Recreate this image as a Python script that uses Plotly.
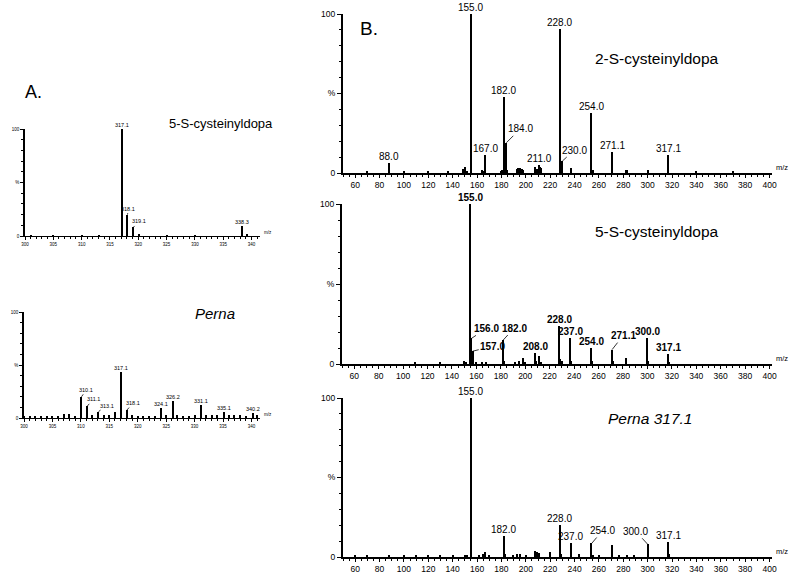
import plotly.graph_objects as go

# ---------------- DATA ----------------
# Panel A1: 5-S-cysteinyldopa (MS)
a1_mz = [301, 305, 310, 313, 317.1, 318.1, 319.1, 320.1, 325, 330, 338.3, 339.3]
a1_int = [0.5, 0.5, 0.5, 0.5, 100, 20, 8, 1, 0.5, 0.5, 9, 1.5]
a1_labels = [317.1, 318.1, 319.1, 338.3]

# Panel A2: Perna (MS)
a2_mz = [300, 301, 302, 303, 304, 305, 306, 307, 308, 309, 310.1, 311.1, 312, 313.1, 314, 315, 316,
         317.1, 318.1, 319, 320, 321, 322, 323, 324.1, 325, 326.2, 327, 328, 329, 330, 331.1, 332,
         333, 334, 335.1, 336, 337, 338, 339, 340.2, 341]
a2_int = [1.5, 1.5, 1.5, 1, 1.5, 2, 2, 3.5, 4, 1, 20, 11, 2.5, 6, 3, 2.5, 6,
          43, 7.5, 3, 2, 2, 1.5, 2, 9.5, 3, 16, 3, 2, 2, 3, 12, 3,
          3, 2.5, 6, 3, 3, 2.5, 2, 5, 3]
a2_labels = [310.1, 311.1, 313.1, 317.1, 318.1, 324.1, 326.2, 331.1, 335.1, 340.2]

# Panel B1: 2-S-cysteinyldopa (MS/MS)
b1_mz = [70, 88.0, 100, 120, 136, 149, 150, 152, 155.0, 164, 165, 167.0, 180, 181, 182.0, 183, 184.0,
         185, 193, 194, 195, 196, 197, 198, 208, 209, 210, 211.0, 212, 213, 228.0, 229, 230.0, 237,
         254.0, 255, 271.1, 282, 283, 300, 317.1, 340, 370]
b1_int = [0.8, 6, 0.8, 1.2, 1, 2.5, 3.5, 1.5, 100, 2, 1.5, 11.5, 1.5, 2, 48, 17, 19,
          2, 2.5, 3, 3, 2.5, 2.5, 2, 4, 2.5, 2, 5, 4, 3, 90.5, 3, 7.5, 3,
          38, 2, 13.5, 2, 2, 2, 11.5, 0.8, 0.8]
b1_labels = [88.0, 155.0, 167.0, 182.0, 184.0, 211.0, 228.0, 230.0, 254.0, 271.1, 317.1]

# Panel B2: 5-S-cysteinyldopa (MS/MS)
b2_mz = [110, 130, 150, 152, 155.0, 156.0, 157.0, 160, 165, 168, 182.0, 183, 192, 195, 198, 200,
         208.0, 209, 211, 213, 228.0, 229, 230, 237.0, 238, 254.0, 255, 271.1, 272, 283, 300.0, 301,
         317.1, 318]
b2_int = [0.8, 1, 2, 1.5, 100, 16, 8, 1, 1.5, 1, 15, 2, 1.5, 2, 4, 1.5,
          7, 2, 5, 1.5, 24, 3, 2, 16.5, 2, 10, 2, 9, 2, 3.5, 16.5, 2,
          6, 1.5]
b2_labels = [155.0, 156.0, 157.0, 182.0, 208.0, 228.0, 237.0, 254.0, 271.1, 300.0, 317.1]

# Panel B3: Perna 317.1 (MS/MS)
b3_mz = [60, 70, 88, 100, 110, 120, 130, 140, 150, 152, 155.0, 162, 165, 167, 170, 182.0, 183, 190,
         193, 195, 200, 208, 209, 211, 220, 228.0, 229, 237.0, 244, 254.0, 255, 260, 271, 277, 283,
         289, 300.0, 317.1, 318]
b3_int = [0.8, 0.8, 1.5, 0.8, 0.8, 0.8, 1, 1, 1.2, 1.5, 100, 1, 2, 3, 1, 13, 2, 1.5,
          2, 2, 1.5, 3.5, 3, 2.5, 3, 20, 2, 9, 2, 8.5, 1.5, 1, 7.5, 1, 1.5,
          1.5, 8, 9.5, 2]
b3_labels = [155.0, 182.0, 228.0, 237.0, 254.0, 300.0, 317.1]

a_xticks = [300, 305, 310, 315, 320, 325, 330, 335, 340]
b_xticks = [60, 80, 100, 120, 140, 160, 180, 200, 220, 240, 260, 280, 300, 320, 340, 360, 380, 400]
y_tickvals = [0, 50, 100]
y_ticktext = ["0", "%", "100"]

# ---------------- FIGURE ----------------
W, H = 800, 577
FONT = "Liberation Sans, Arial, sans-serif"

def px2x(p):
    return p / W

def px2y(p):
    return 1 - p / H

fig = go.Figure()

panels = [
    # name, mz, int, labels, xdomain px, ydomain px (bottom, top), xrange, bar width, kind, bold labels
    ("a1", a1_mz, a1_int, a1_labels, (25, 260), (236, 129), [300, 341.5], 0.2, "A", False),
    ("a2", a2_mz, a2_int, a2_labels, (24, 260), (418, 312), [300, 341.5], 0.2, "A", False),
    ("b1", b1_mz, b1_int, b1_labels, (343, 772), (173, 14), [50, 402], 1.1, "B", False),
    ("b2", b2_mz, b2_int, b2_labels, (342, 772), (364, 204), [50, 402], 1.1, "B", True),
    ("b3", b3_mz, b3_int, b3_labels, (343, 772), (557, 398), [50, 402], 1.1, "B", False),
]

# leader-line offsets for labels (px): (ax, ay)
leaders = {
    "a1": {318.1: (1, -6), 319.1: (6, -6)},
    "a2": {310.1: (5, -7), 311.1: (6, -7), 313.1: (8, -6), 318.1: (6, -7)},
    "b1": {184.0: (14, -14), 230.0: (12, -11)},
    "b2": {156.0: (15, -10), 157.0: (20, -5), 182.0: (11, -12), 271.1: (11, -14)},
    "b3": {254.0: (11, -13), 300.0: (-12, -13)},
}

annotations = []
for i, (name, mz, inten, labs, xd, yd, xr, bw, kind, bold) in enumerate(panels):
    n = "" if i == 0 else str(i + 1)
    xa, ya = "x" + n, "y" + n
    fig.add_trace(go.Bar(x=mz, y=inten, width=bw, marker=dict(color="black", line=dict(width=0)),
                         xaxis=xa, yaxis=ya, showlegend=False))
    small = kind == "A"
    tickfont = dict(family=FONT, size=4.5 if small else 8.5, color="black")
    xaxis = dict(domain=[px2x(xd[0]), px2x(xd[1])], range=xr, anchor=ya, automargin=False,
                 showline=True, linecolor="black", linewidth=1.2 if small else 1.5,
                 ticks="outside", ticklen=3, tickwidth=1, tickcolor="black",
                 tickvals=a_xticks if small else b_xticks, tickfont=tickfont,
                 minor=dict(dtick=1 if small else 5, ticklen=2, tickwidth=1, tickcolor="black", ticks="outside"),
                 showgrid=False, zeroline=False, fixedrange=True)
    yaxis = dict(domain=[px2y(yd[0]), px2y(yd[1])], range=[0, 100], anchor=xa, automargin=False,
                 showline=True, linecolor="black", linewidth=1.5 if small else 2,
                 ticks="outside", ticklen=3 if small else 4, tickwidth=1, tickcolor="black",
                 tickvals=y_tickvals, ticktext=y_ticktext, tickfont=tickfont,
                 minor=dict(dtick=10, ticklen=2, tickwidth=1, tickcolor="black", ticks="outside"),
                 showgrid=False, zeroline=False, fixedrange=True)
    fig.update_layout(**{"xaxis" + n: xaxis, "yaxis" + n: yaxis})

    lfs = 5.5 if small else 10
    for m in labs:
        v = inten[mz.index(m)]
        txt = f"{m:.1f}"
        if bold:
            txt = f"<b>{txt}</b>"
        if m in leaders[name]:
            ax, ay = leaders[name][m]
            annotations.append(dict(x=m, y=v, xref=xa, yref=ya, text=txt, showarrow=True,
                                    arrowhead=0, arrowwidth=0.8, arrowcolor="black", ax=ax, ay=ay,
                                    standoff=0, font=dict(family=FONT, size=lfs, color="black")))
        else:
            annotations.append(dict(x=m, y=v, xref=xa, yref=ya, text=txt, showarrow=False,
                                    yanchor="bottom", yshift=-1,
                                    font=dict(family=FONT, size=lfs, color="black")))

    # m/z axis label
    annotations.append(dict(x=px2x(xd[1] + 2), y=px2y(yd[0] + 1), xref="paper", yref="paper",
                            text="m/z", showarrow=False, xanchor="left", yanchor="bottom",
                            font=dict(family=FONT, size=4.5 if small else 7.5, color="black")))

# titles and panel letters
texts = [
    ("A.", 33, 92, 18, "center"),
    ("B.", 369, 28, 19, "center"),
    ("5-S-cysteinyldopa", 167, 124, 13, "left"),
    ("<i>Perna</i>", 193, 313, 15, "left"),
    ("2-S-cysteinyldopa", 593, 58, 15.5, "left"),
    ("5-S-cysteinyldopa", 593, 232, 15.5, "left"),
    ("<i>Perna 317.1</i>", 606, 418, 15.5, "left"),
]
for t, x, y, s, anc in texts:
    annotations.append(dict(x=px2x(x), y=px2y(y), xref="paper", yref="paper", text=t,
                            showarrow=False, xanchor=anc, yanchor="middle",
                            font=dict(family=FONT, size=s, color="black")))

fig.update_layout(width=W, height=H, margin=dict(l=0, r=0, t=0, b=0, autoexpand=False),
                  paper_bgcolor="white", plot_bgcolor="white", annotations=annotations,
                  bargap=0, showlegend=False)

# remove the default 8px page margin so the figure fills the 800x577 window exactly
fig.write_html("out.html", config={"displayModeBar": False},
               post_script="document.body.style.margin='0';")
